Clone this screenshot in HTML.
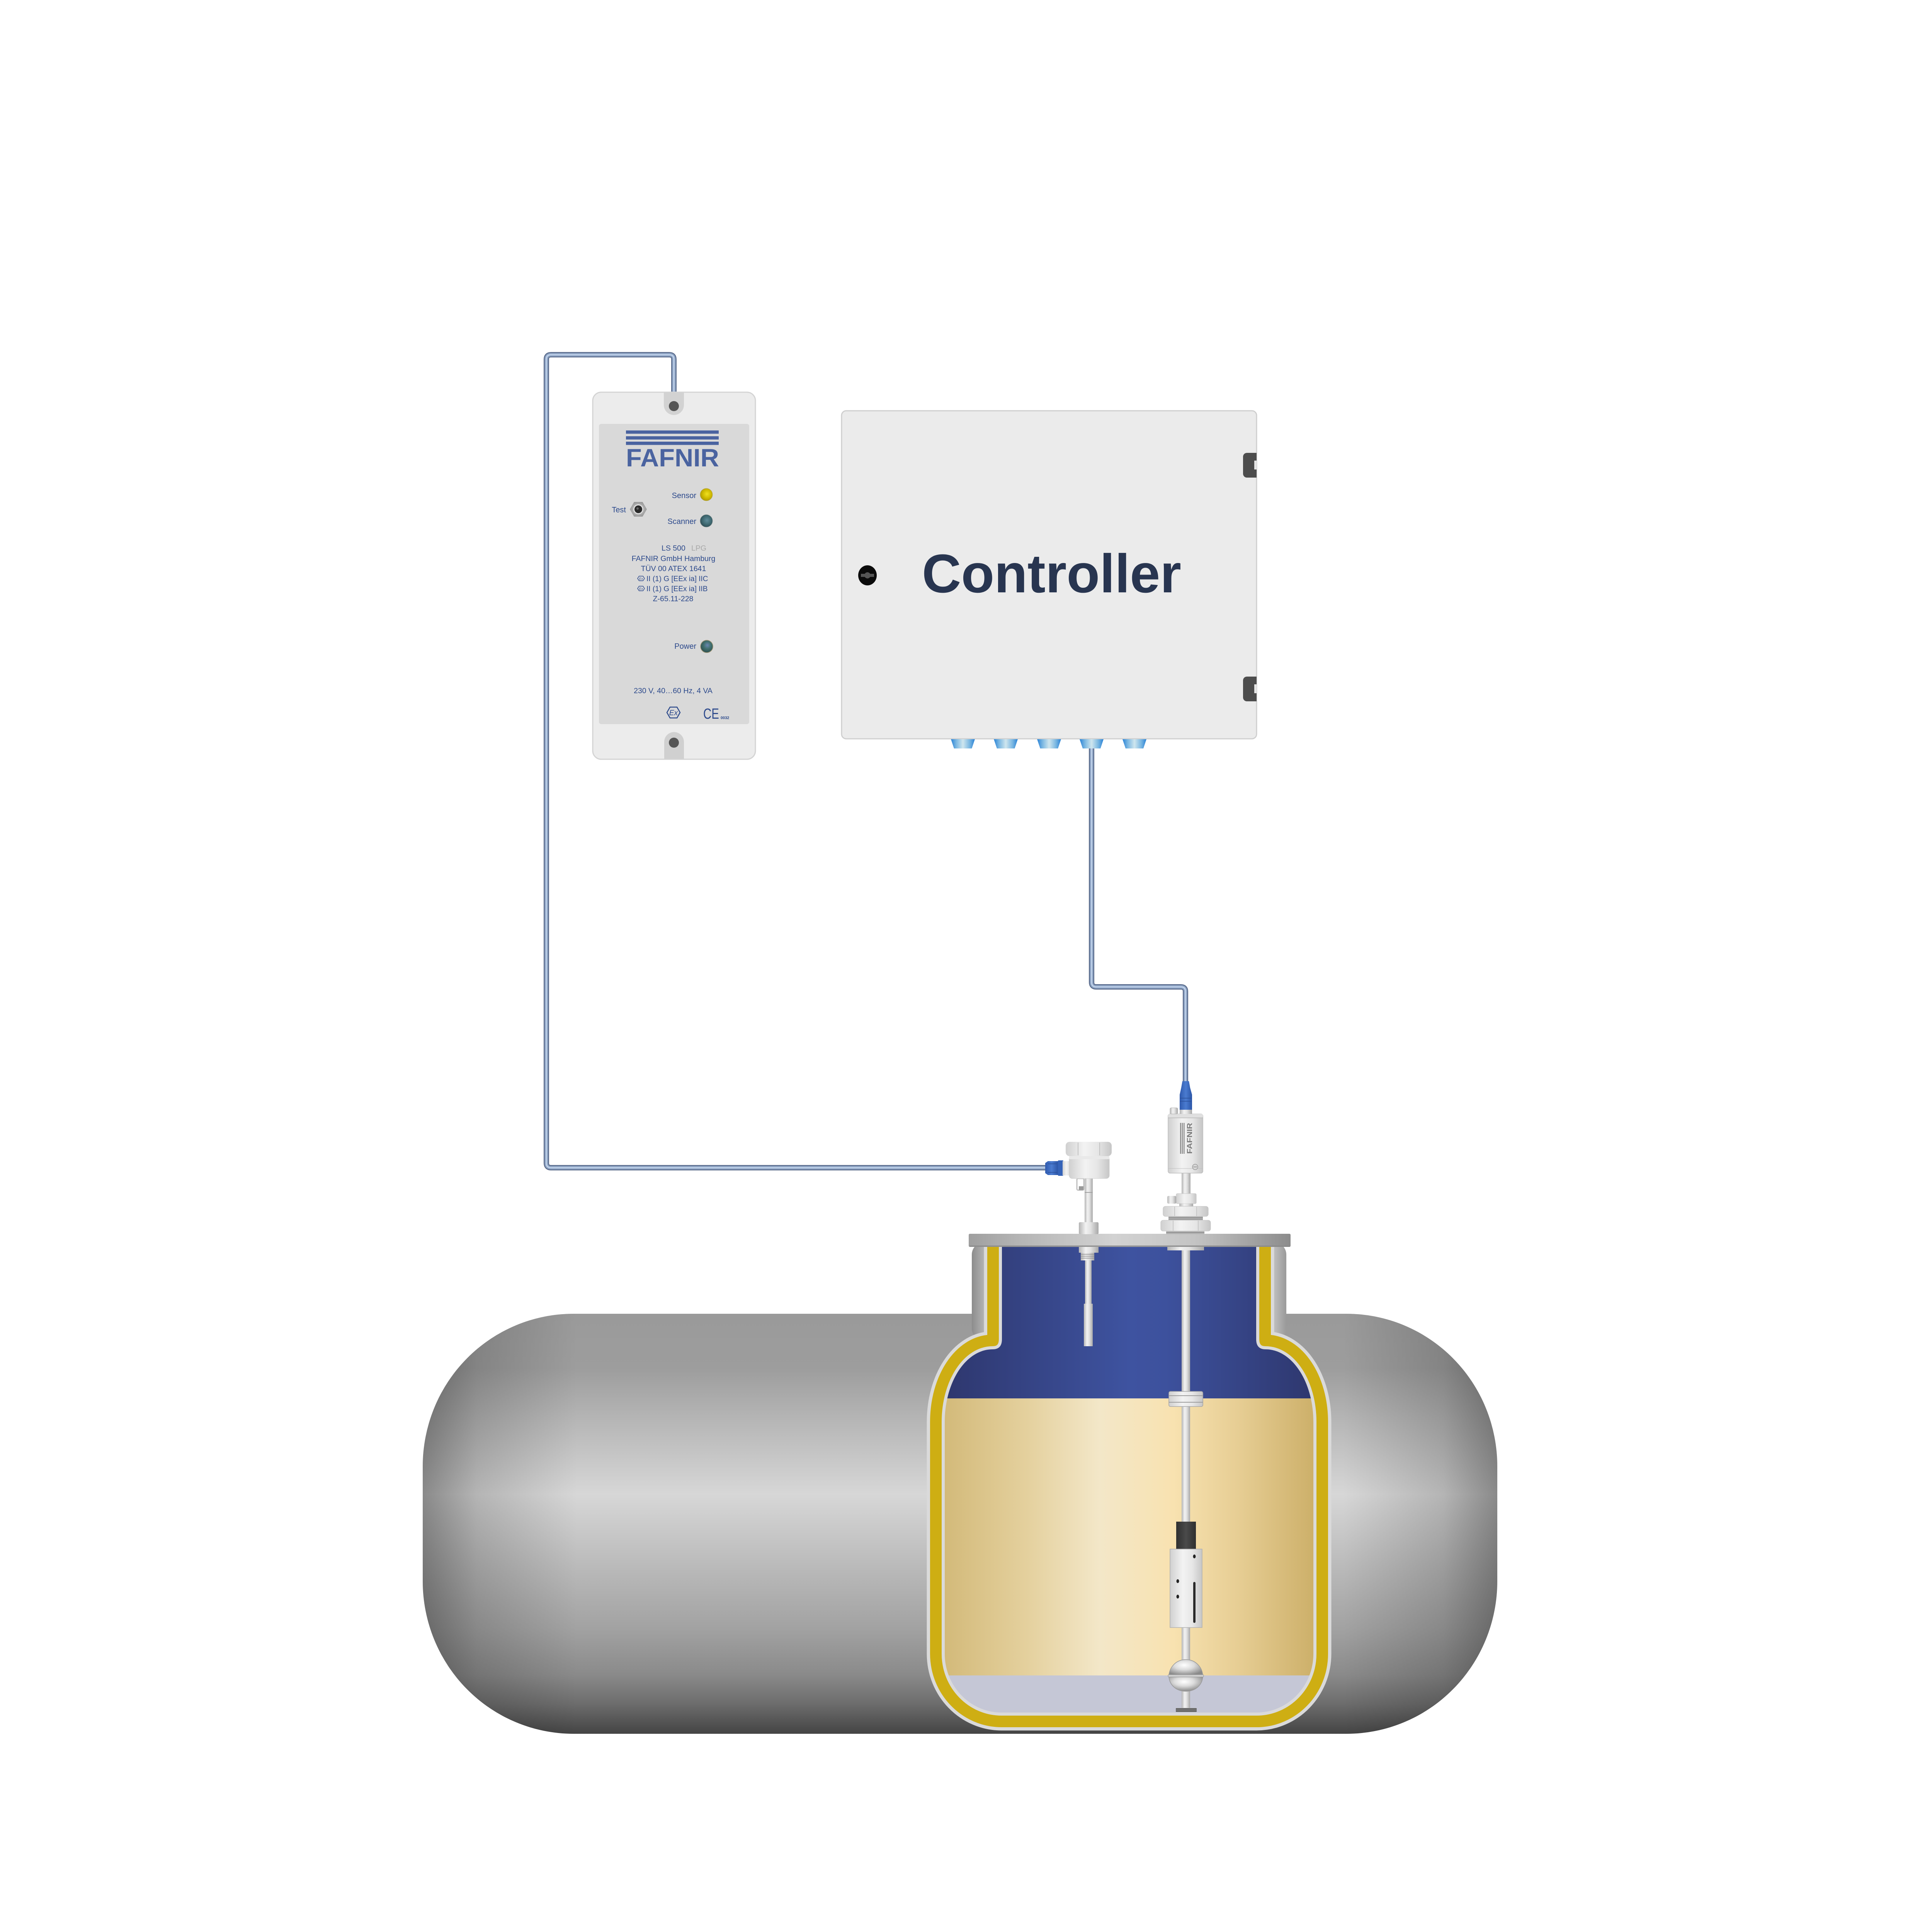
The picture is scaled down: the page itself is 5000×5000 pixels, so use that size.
<!DOCTYPE html>
<html>
<head>
<meta charset="utf-8">
<style>
html,body{margin:0;padding:0;background:#ffffff;}
body{width:5000px;height:5000px;overflow:hidden;}
svg{display:block;}
text{font-family:"Liberation Sans",Arial,sans-serif;}
</style>
</head>
<body>
<svg width="5000" height="5000" viewBox="0 0 5000 5000" xmlns="http://www.w3.org/2000/svg">
<defs>
  <linearGradient id="tankGrad" x1="0" y1="0" x2="0" y2="1">
    <stop offset="0" stop-color="#9a9a9a"/>
    <stop offset="0.13" stop-color="#9d9d9d"/>
    <stop offset="0.25" stop-color="#b5b5b5"/>
    <stop offset="0.43" stop-color="#d7d7d7"/>
    <stop offset="0.59" stop-color="#bcbcbc"/>
    <stop offset="0.75" stop-color="#a2a2a2"/>
    <stop offset="0.86" stop-color="#8a8a8a"/>
    <stop offset="0.93" stop-color="#6c6c6c"/>
    <stop offset="1" stop-color="#444444"/>
  </linearGradient>
  <linearGradient id="endL" x1="0" y1="0" x2="1" y2="0">
    <stop offset="0" stop-color="#000" stop-opacity="0.36"/>
    <stop offset="0.35" stop-color="#000" stop-opacity="0.16"/>
    <stop offset="1" stop-color="#000" stop-opacity="0"/>
  </linearGradient>
  <linearGradient id="endR" x1="1" y1="0" x2="0" y2="0">
    <stop offset="0" stop-color="#000" stop-opacity="0.36"/>
    <stop offset="0.35" stop-color="#000" stop-opacity="0.16"/>
    <stop offset="1" stop-color="#000" stop-opacity="0"/>
  </linearGradient>
  <linearGradient id="neckGrad" gradientUnits="userSpaceOnUse" x1="2515" y1="0" x2="3329" y2="0">
    <stop offset="0" stop-color="#8c8c8c"/>
    <stop offset="0.038" stop-color="#b2b2b2"/>
    <stop offset="0.5" stop-color="#c8c8c8"/>
    <stop offset="0.962" stop-color="#bdbdbd"/>
    <stop offset="1" stop-color="#9a9a9a"/>
  </linearGradient>
  <linearGradient id="flangeGrad" x1="0" y1="0" x2="1" y2="0">
    <stop offset="0" stop-color="#9f9f9f"/>
    <stop offset="0.15" stop-color="#b4b4b4"/>
    <stop offset="0.45" stop-color="#d2d2d2"/>
    <stop offset="0.7" stop-color="#c4c4c4"/>
    <stop offset="1" stop-color="#8c8c8c"/>
  </linearGradient>
  <linearGradient id="blueGrad" gradientUnits="userSpaceOnUse" x1="2445" y1="0" x2="3399" y2="0">
    <stop offset="0" stop-color="#2e376e"/>
    <stop offset="0.5" stop-color="#3e53a0"/>
    <stop offset="0.6" stop-color="#3d519d"/>
    <stop offset="1" stop-color="#2e376e"/>
  </linearGradient>
  <linearGradient id="beigeGrad" gradientUnits="userSpaceOnUse" x1="2445" y1="0" x2="3399" y2="0">
    <stop offset="0" stop-color="#d3ba7a"/>
    <stop offset="0.22" stop-color="#e4d09d"/>
    <stop offset="0.42" stop-color="#f3e7c8"/>
    <stop offset="0.62" stop-color="#f8e2b0"/>
    <stop offset="0.8" stop-color="#e6cd93"/>
    <stop offset="1" stop-color="#cdb06a"/>
  </linearGradient>
  <linearGradient id="metal" x1="0" y1="0" x2="1" y2="0">
    <stop offset="0" stop-color="#b4b4b4"/>
    <stop offset="0.35" stop-color="#f2f2f2"/>
    <stop offset="0.6" stop-color="#e2e2e2"/>
    <stop offset="1" stop-color="#a8a8a8"/>
  </linearGradient>
  <linearGradient id="metalLight" x1="0" y1="0" x2="1" y2="0">
    <stop offset="0" stop-color="#d0d0d0"/>
    <stop offset="0.4" stop-color="#f3f3f3"/>
    <stop offset="0.7" stop-color="#e6e6e6"/>
    <stop offset="1" stop-color="#c6c6c6"/>
  </linearGradient>
  <linearGradient id="darkSleeve" x1="0" y1="0" x2="1" y2="0">
    <stop offset="0" stop-color="#2f2f2f"/>
    <stop offset="0.5" stop-color="#4a4a4a"/>
    <stop offset="1" stop-color="#2f2f2f"/>
  </linearGradient>
  <linearGradient id="blueParts" x1="0" y1="0" x2="1" y2="0">
    <stop offset="0" stop-color="#2f5aae"/>
    <stop offset="0.5" stop-color="#4a7bd0"/>
    <stop offset="1" stop-color="#2c56a8"/>
  </linearGradient>
  <linearGradient id="connGrad" x1="0" y1="0" x2="1" y2="0">
    <stop offset="0" stop-color="#2a82d6"/>
    <stop offset="0.22" stop-color="#7ab7e2"/>
    <stop offset="0.5" stop-color="#cfe6ee"/>
    <stop offset="0.78" stop-color="#7ab7e2"/>
    <stop offset="1" stop-color="#2a82d6"/>
  </linearGradient>
  <radialGradient id="ledY" cx="0.55" cy="0.45" r="0.6">
    <stop offset="0" stop-color="#f0e020"/>
    <stop offset="0.6" stop-color="#cdb800"/>
    <stop offset="1" stop-color="#a89400"/>
  </radialGradient>
  <radialGradient id="ledT" cx="0.55" cy="0.45" r="0.6">
    <stop offset="0" stop-color="#5f8c9a"/>
    <stop offset="0.6" stop-color="#3e6870"/>
    <stop offset="1" stop-color="#2c4a52"/>
  </radialGradient>
  <radialGradient id="ledP" cx="0.55" cy="0.4" r="0.6">
    <stop offset="0" stop-color="#6a86b0"/>
    <stop offset="0.5" stop-color="#41706e"/>
    <stop offset="1" stop-color="#2e5050"/>
  </radialGradient>
  <radialGradient id="ballGrad" cx="0.45" cy="0.35" r="0.65">
    <stop offset="0" stop-color="#ffffff"/>
    <stop offset="0.45" stop-color="#dcdcdc"/>
    <stop offset="0.8" stop-color="#a8a8a8"/>
    <stop offset="1" stop-color="#8a8a8a"/>
  </radialGradient>
  <radialGradient id="testGrad" cx="0.5" cy="0.5" r="0.5">
    <stop offset="0" stop-color="#d8d8d8"/>
    <stop offset="1" stop-color="#9a9a9a"/>
  </radialGradient>
  <clipPath id="tankClip">
    <rect x="1094" y="3400" width="2781" height="1087" rx="390" ry="395"/>
  </clipPath>
  <clipPath id="belowFlange">
    <rect x="0" y="3227" width="5000" height="1773"/>
  </clipPath>
  <clipPath id="vesselClip">
    <path d="M2593 3227 L2593 3466 Q2593 3492 2569 3492 C2500 3492 2445 3576 2445 3680 L2445 4280 C2445 4364 2511 4432 2592 4432 L3252 4432 C3333 4432 3399 4364 3399 4280 L3399 3680 C3399 3576 3344 3492 3275 3492 Q3251 3492 3251 3466 L3251 3227 Z"/>
  </clipPath>
</defs>

<!-- ================= TANK ================= -->
<rect x="1094" y="3400" width="2781" height="1087" rx="390" ry="395" fill="url(#tankGrad)"/>
<g clip-path="url(#tankClip)">
  <rect x="1094" y="3400" width="400" height="1087" fill="url(#endL)"/>
  <rect x="3475" y="3400" width="400" height="1087" fill="url(#endR)"/>
</g>

<!-- neck outer wall -->
<rect x="2515" y="3215" width="814" height="255" rx="32" ry="32" fill="url(#neckGrad)"/>

<!-- vessel wall layers -->
<g clip-path="url(#belowFlange)">
  <path d="M2593 3227 L2593 3466 Q2593 3492 2569 3492 C2500 3492 2445 3576 2445 3680 L2445 4280 C2445 4364 2511 4432 2592 4432 L3252 4432 C3333 4432 3399 4364 3399 4280 L3399 3680 C3399 3576 3344 3492 3275 3492 Q3251 3492 3251 3466 L3251 3227 Z" fill="none" stroke="#dadada" stroke-width="93"/>
  <path d="M2593 3227 L2593 3466 Q2593 3492 2569 3492 C2500 3492 2445 3576 2445 3680 L2445 4280 C2445 4364 2511 4432 2592 4432 L3252 4432 C3333 4432 3399 4364 3399 4280 L3399 3680 C3399 3576 3344 3492 3275 3492 Q3251 3492 3251 3466 L3251 3227 Z" fill="none" stroke="#ceae13" stroke-width="76"/>
  <path d="M2593 3227 L2593 3466 Q2593 3492 2569 3492 C2500 3492 2445 3576 2445 3680 L2445 4280 C2445 4364 2511 4432 2592 4432 L3252 4432 C3333 4432 3399 4364 3399 4280 L3399 3680 C3399 3576 3344 3492 3275 3492 Q3251 3492 3251 3466 L3251 3227 Z" fill="none" stroke="#dadada" stroke-width="16"/>
</g>

<!-- vessel contents -->
<g clip-path="url(#vesselClip)">
  <rect x="2400" y="3200" width="1050" height="420" fill="url(#blueGrad)"/>
  <rect x="2400" y="3619" width="1050" height="718" fill="url(#beigeGrad)"/>
  <rect x="2400" y="4336" width="1050" height="120" fill="#c5c7d6"/>
</g>

<!-- ================= PROBES INSIDE ================= -->
<!-- left LS500 probe -->
<rect x="2792" y="3227" width="51" height="15" fill="url(#metal)"/>
<rect x="2797" y="3242" width="35" height="20" fill="url(#metal)"/>
<g stroke="#8a8a8a" stroke-width="1.5">
  <line x1="2797" y1="3246" x2="2832" y2="3246"/>
  <line x1="2797" y1="3251" x2="2832" y2="3251"/>
  <line x1="2797" y1="3256" x2="2832" y2="3256"/>
</g>
<rect x="2808" y="3262" width="17" height="114" fill="url(#metal)"/>
<rect x="2805" y="3374" width="23" height="110" fill="url(#metal)"/>

<!-- right magnetostrictive probe -->
<rect x="3058" y="3227" width="22" height="1195" fill="url(#metal)"/>
<rect x="3021" y="3227" width="95" height="9" fill="url(#metal)"/>
<!-- interface float -->
<rect x="3025" y="3601" width="88" height="39" rx="4" fill="url(#metalLight)" stroke="#a5a5a5" stroke-width="1.5"/>
<line x1="3025" y1="3612" x2="3113" y2="3612" stroke="#9c9c9c" stroke-width="2"/>
<line x1="3025" y1="3629" x2="3113" y2="3629" stroke="#9c9c9c" stroke-width="2"/>
<!-- dark sleeve -->
<rect x="3044" y="3938" width="51" height="71" fill="url(#darkSleeve)"/>
<!-- silver cylinder -->
<rect x="3028" y="4009" width="83" height="203" fill="url(#metalLight)" stroke="#b0b0b0" stroke-width="1.5"/>
<ellipse cx="3091" cy="4028" rx="3.5" ry="5" fill="#222"/>
<ellipse cx="3048" cy="4092" rx="3.5" ry="5" fill="#222"/>
<ellipse cx="3048" cy="4132" rx="3.5" ry="5" fill="#222"/>
<rect x="3088" y="4094" width="6" height="106" rx="3" fill="#2a2a2a"/>
<!-- ball float -->
<path d="M3069 4295 C3095 4295 3111 4315 3113 4336 L3025 4336 C3027 4315 3043 4295 3069 4295 Z" fill="url(#ballGrad)" stroke="#9a9a9a" stroke-width="1.5"/>
<path d="M3025 4339 C3027 4362 3045 4377 3069 4377 C3093 4377 3111 4362 3113 4339 Z" fill="url(#ballGrad)" stroke="#9a9a9a" stroke-width="1.5"/>
<rect x="3023" y="4334" width="92" height="6" rx="2" fill="#cfcfcf" stroke="#8f8f8f" stroke-width="1"/>
<!-- foot -->
<rect x="3043" y="4420" width="54" height="11" rx="2" fill="#9a9a9a"/>
<line x1="3043" y1="4423" x2="3097" y2="4423" stroke="#333" stroke-width="2"/>
<line x1="3043" y1="4428" x2="3097" y2="4428" stroke="#333" stroke-width="2"/>

<!-- ================= FLANGE ================= -->
<rect x="2507" y="3193" width="833" height="34" rx="3" fill="url(#flangeGrad)"/>
<line x1="2509" y1="3225" x2="3338" y2="3225" stroke="#8a8a8a" stroke-width="3"/>

<!-- ================= PROBE HEADS ABOVE FLANGE ================= -->
<!-- left probe above -->
<rect x="2792" y="3163" width="51" height="31" rx="3" fill="url(#metal)"/>
<rect x="2807" y="3050" width="21" height="113" fill="url(#metal)"/>
<line x1="2807" y1="3086" x2="2828" y2="3086" stroke="#a0a0a0" stroke-width="2"/>
<rect x="2787" y="3050" width="18" height="30" rx="3" fill="none" stroke="#bdbdbd" stroke-width="3"/>
<rect x="2792" y="3070" width="12" height="10" fill="#9a9a9a"/>
<!-- cable 1 -->
<g fill="none" stroke-linecap="butt">
  <path d="M2710 3022 L1426 3022 Q1414 3022 1414 3010 L1414 930 Q1414 918 1426 918 L1732 918 Q1744 918 1744 930 L1744 1022" stroke="#5b6c8c" stroke-width="14"/>
  <path d="M2710 3022 L1426 3022 Q1414 3022 1414 3010 L1414 930 Q1414 918 1426 918 L1732 918 Q1744 918 1744 930 L1744 1022" stroke="#8fa5c5" stroke-width="9"/>
  <path d="M2710 3022 L1426 3022 Q1414 3022 1414 3010 L1414 930 Q1414 918 1426 918 L1732 918 Q1744 918 1744 930 L1744 1022" stroke="#c2d4ec" stroke-width="3"/>
</g>
<!-- gland -->
<path d="M2705 3010 L2712 3005 L2738 3005 L2738 3041 L2712 3041 L2705 3036 Z" fill="url(#blueParts)"/>
<rect x="2738" y="3003" width="14" height="40" rx="2" fill="#3563b8"/>
<line x1="2712" y1="3012" x2="2736" y2="3012" stroke="#2a4f98" stroke-width="1.5"/>
<line x1="2712" y1="3034" x2="2736" y2="3034" stroke="#2a4f98" stroke-width="1.5"/>
<rect x="2750" y="3005" width="23" height="37" fill="url(#metalLight)"/>
<!-- body -->
<rect x="2767" y="2992" width="104" height="58" rx="8" fill="url(#metalLight)" stroke="#cfcfcf" stroke-width="1"/>
<rect x="2767" y="2992" width="104" height="8" fill="#e9e9e9"/>
<!-- hex cap -->
<rect x="2758" y="2955" width="119" height="37" rx="10" fill="url(#metalLight)"/>
<line x1="2790" y1="2957" x2="2790" y2="2990" stroke="#c2c2c2" stroke-width="2"/>
<line x1="2846" y1="2957" x2="2846" y2="2990" stroke="#c2c2c2" stroke-width="2"/>

<!-- right probe above -->
<rect x="3058" y="3036" width="23" height="53" fill="url(#metal)"/>
<rect x="3044" y="3089" width="52" height="26" rx="3" fill="url(#metalLight)" stroke="#c5c5c5" stroke-width="1"/>
<rect x="3021" y="3095" width="23" height="20" rx="3" fill="url(#metal)"/>
<rect x="3052" y="3115" width="36" height="7" fill="url(#metal)"/>
<rect x="3010" y="3122" width="117" height="26" rx="6" fill="url(#metalLight)" stroke="#c3c3c3" stroke-width="1"/>
<line x1="3040" y1="3123" x2="3040" y2="3147" stroke="#c6c6c6" stroke-width="2"/>
<line x1="3097" y1="3123" x2="3097" y2="3147" stroke="#c6c6c6" stroke-width="2"/>
<rect x="3024" y="3148" width="89" height="10" fill="#b8b8b8"/>
<line x1="3024" y1="3151" x2="3113" y2="3151" stroke="#7f7f7f" stroke-width="1.5"/>
<line x1="3024" y1="3155" x2="3113" y2="3155" stroke="#7f7f7f" stroke-width="1.5"/>
<rect x="3004" y="3158" width="129" height="28" rx="6" fill="url(#metalLight)" stroke="#c3c3c3" stroke-width="1"/>
<line x1="3036" y1="3159" x2="3036" y2="3185" stroke="#c6c6c6" stroke-width="2"/>
<line x1="3101" y1="3159" x2="3101" y2="3185" stroke="#c6c6c6" stroke-width="2"/>
<rect x="3018" y="3186" width="99" height="8" fill="#b5b5b5"/>
<line x1="3018" y1="3190" x2="3117" y2="3190" stroke="#7f7f7f" stroke-width="1.5"/>
<!-- sensor head -->
<rect x="3023" y="2883" width="90" height="153" rx="5" fill="url(#metalLight)" stroke="#bdbdbd" stroke-width="1.5"/>
<rect x="3023" y="2883" width="90" height="10" rx="3" fill="#e0e0e0"/>
<line x1="3023" y1="2893" x2="3113" y2="2893" stroke="#b8b8b8" stroke-width="1.5"/>
<line x1="3023" y1="3024" x2="3113" y2="3024" stroke="#bdbdbd" stroke-width="1"/>
<rect x="3054" y="2906" width="2.5" height="80" fill="#868686"/>
<rect x="3058.5" y="2906" width="2.5" height="80" fill="#868686"/>
<rect x="3063" y="2906" width="2.5" height="80" fill="#868686"/>
<text transform="translate(3085,2986) rotate(-90)" font-size="18" font-weight="bold" fill="#7a7a7a" textLength="80" lengthAdjust="spacingAndGlyphs">FAFNIR</text>
<circle cx="3093" cy="3020" r="7" fill="#d8d8d8" stroke="#9a9a9a" stroke-width="1.5"/>
<line x1="3088" y1="3020" x2="3098" y2="3020" stroke="#888" stroke-width="1.5"/>
<rect x="3028" y="2867" width="20" height="16" rx="3" fill="url(#metal)" stroke="#b0b0b0" stroke-width="1"/>
<rect x="3053" y="2872" width="32" height="11" fill="url(#metal)"/>

<!-- cable 2 -->
<g fill="none">
  <path d="M2825 1935 L2825 2542 Q2825 2554 2837 2554 L3056 2554 Q3068 2554 3068 2566 L3068 2805" stroke="#5b6c8c" stroke-width="14"/>
  <path d="M2825 1935 L2825 2542 Q2825 2554 2837 2554 L3056 2554 Q3068 2554 3068 2566 L3068 2805" stroke="#8fa5c5" stroke-width="9"/>
  <path d="M2825 1935 L2825 2542 Q2825 2554 2837 2554 L3056 2554 Q3068 2554 3068 2566 L3068 2805" stroke="#c2d4ec" stroke-width="3"/>
</g>
<!-- head connector -->
<path d="M3060 2798 L3077 2798 L3080 2815 L3085 2833 L3085 2872 L3053 2872 L3053 2833 L3057 2815 Z" fill="url(#blueParts)"/>
<line x1="3054" y1="2842" x2="3084" y2="2842" stroke="#2a4f98" stroke-width="1.5"/>
<line x1="3054" y1="2850" x2="3084" y2="2850" stroke="#2a4f98" stroke-width="1.5"/>

<!-- ================= FAFNIR LS500 UNIT ================= -->
<rect x="1534" y="1015" width="421" height="950" rx="22" fill="#ececec" stroke="#d4d4d4" stroke-width="3"/>
<path d="M1718 1016 L1770 1016 L1770 1048 A26 26 0 0 1 1718 1048 Z" fill="#d2d2d2"/>
<circle cx="1744" cy="1051" r="13" fill="#555555"/>
<path d="M1719 1964 L1770 1964 L1770 1920 A25.5 25.5 0 0 0 1719 1920 Z" fill="#d0d0d0"/>
<circle cx="1744" cy="1922" r="13" fill="#555555"/>
<rect x="1550" y="1097" width="389" height="777" rx="6" fill="#d9d9d9"/>
<!-- logo -->
<rect x="1620" y="1114" width="240" height="8.5" fill="#4a63a0"/>
<rect x="1620" y="1129" width="240" height="8.5" fill="#4a63a0"/>
<rect x="1620" y="1143" width="240" height="8.5" fill="#4a63a0"/>
<text x="1620" y="1207" font-size="65" font-weight="bold" fill="#4a63a0" textLength="241" lengthAdjust="spacingAndGlyphs">FAFNIR</text>
<!-- indicators -->
<g font-size="20" fill="#2d4a8c">
  <text x="1802" y="1289" text-anchor="end">Sensor</text>
  <text x="1620" y="1326" text-anchor="end">Test</text>
  <text x="1802" y="1356" text-anchor="end">Scanner</text>
  <text x="1802" y="1679" text-anchor="end">Power</text>
</g>
<circle cx="1828" cy="1280" r="16" fill="url(#ledY)" stroke="#b5a860" stroke-width="1"/>
<circle cx="1828" cy="1348" r="16" fill="url(#ledT)" stroke="#7d8a8a" stroke-width="1"/>
<circle cx="1829" cy="1673" r="16" fill="url(#ledP)" stroke="#9a9070" stroke-width="1.5"/>
<polygon points="1630,1318 1641,1299 1663,1299 1674,1318 1663,1337 1641,1337" fill="url(#testGrad)"/>
<circle cx="1652" cy="1318" r="13" fill="#e0e0e0"/>
<circle cx="1652" cy="1318" r="10" fill="#2a2a2a"/>
<circle cx="1650" cy="1316" r="3" fill="#666"/>
<!-- info text -->
<g font-size="19.5" fill="#2d4a8c">
  <text x="1712" y="1425">LS 500</text>
  <text x="1789" y="1425" fill="#a9a9a9">LPG</text>
  <text x="1743" y="1452" text-anchor="middle">FAFNIR GmbH Hamburg</text>
  <text x="1743" y="1478" text-anchor="middle">TÜV 00 ATEX 1641</text>
  <text x="1673" y="1504" font-size="19">II (1) G [EEx ia] IIC</text>
  <text x="1673" y="1530" font-size="19">II (1) G [EEx ia] IIB</text>
  <text x="1742" y="1556" text-anchor="middle">Z-65.11-228</text>
  <text x="1742" y="1794" text-anchor="middle">230 V, 40…60 Hz, 4 VA</text>
</g>
<g fill="none" stroke="#2d4a8c" stroke-width="1.5">
  <polygon points="1650,1497 1654,1491 1664,1491 1668,1497 1664,1503 1654,1503"/>
  <polygon points="1650,1523 1654,1517 1664,1517 1668,1523 1664,1529 1654,1529"/>
</g>
<text x="1659" y="1500.5" font-size="8.5" fill="#2d4a8c" text-anchor="middle" font-style="italic">Ex</text>
<text x="1659" y="1526.5" font-size="8.5" fill="#2d4a8c" text-anchor="middle" font-style="italic">Ex</text>
<!-- Ex / CE marks -->
<polygon points="1726,1844 1734,1830 1752,1830 1760,1844 1752,1858 1734,1858" fill="none" stroke="#2d4a8c" stroke-width="2.5"/>
<text x="1743" y="1851" font-size="19" fill="#2d4a8c" text-anchor="middle" font-style="italic">Ex</text>
<text x="1820" y="1860" font-size="38" fill="#2d4a8c" textLength="41" lengthAdjust="spacingAndGlyphs">CE</text>
<text x="1865" y="1861" font-size="10" font-weight="bold" fill="#2d4a8c">0032</text>

<!-- ================= CONTROLLER ================= -->
<rect x="2178" y="1063" width="1074" height="849" rx="12" fill="#ebebeb" stroke="#cfcfcf" stroke-width="3"/>
<!-- latches -->
<rect x="3217" y="1172" width="35" height="64" rx="10" fill="#4d4d4d"/>
<rect x="3235" y="1172" width="17" height="64" fill="#4d4d4d"/>
<rect x="3246" y="1192" width="6" height="23" fill="#e6e6e6"/>
<rect x="3217" y="1751" width="35" height="64" rx="10" fill="#4d4d4d"/>
<rect x="3235" y="1751" width="17" height="64" fill="#4d4d4d"/>
<rect x="3246" y="1771" width="6" height="23" fill="#e6e6e6"/>
<!-- keyhole -->
<ellipse cx="2245" cy="1489" rx="24" ry="26" fill="#0b0b0b"/>
<rect x="2228" y="1485" width="34" height="8" fill="#555555"/>
<circle cx="2245" cy="1489" r="8" fill="#555555"/>
<!-- label -->
<text x="2386" y="1533" font-size="141" font-weight="bold" fill="#283550" textLength="671" lengthAdjust="spacingAndGlyphs">Controller</text>
<!-- connectors -->
<g fill="url(#connGrad)">
  <polygon points="2461,1913 2523,1913 2515,1937 2469,1937"/>
  <polygon points="2572,1913 2634,1913 2626,1937 2580,1937"/>
  <polygon points="2684,1913 2746,1913 2738,1937 2692,1937"/>
  <polygon points="2794,1913 2856,1913 2848,1937 2802,1937"/>
  <polygon points="2905,1913 2967,1913 2959,1937 2913,1937"/>
</g>
</svg>
</body>
</html>
